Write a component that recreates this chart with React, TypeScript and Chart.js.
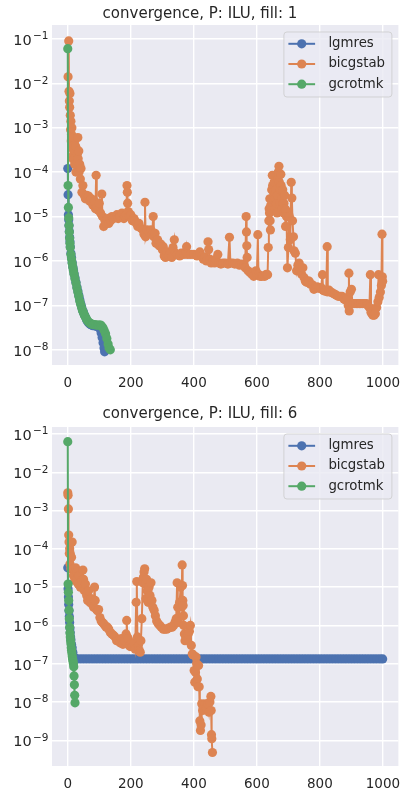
import React, { useEffect, useRef } from "react";
import { Chart, registerables } from "chart.js";

Chart.register(...registerables);

const FAMILY = "'DejaVu Sans'";
const TEXT = "#262626";
const BLUE = "#4C72B0";
const ORANGE = "#DD8452";
const GREEN = "#55A868";

const SERIES_NAMES = ["lgmres", "bicgstab", "gcrotmk"];
const X_TICKS = [0, 200, 400, 600, 800, 1000];
const Y_TICKS_TOP = [1e-8, 1e-7, 1e-6, 1e-5, 1e-4, 1e-3, 1e-2, 1e-1];
const Y_TICKS_BOTTOM = [1e-9, 1e-8, 1e-7, 1e-6, 1e-5, 1e-4, 1e-3, 1e-2, 1e-1];
const TITLE_TOP = "convergence, P: ILU, fill: 1";
const TITLE_BOTTOM = "convergence, P: ILU, fill: 6";

// ---------- top panel (fill: 1) ----------
const topLgmresIter = [0, 1, 2, 3, 4, 5, 6, 7, 8, 10, 12, 14, 16, 18, 20, 23, 26, 29, 32, 35, 38, 41, 44, 47, 50, 53, 56, 60, 64, 68, 72, 76, 80, 85, 90, 95, 100, 103, 106, 109, 112, 115, 117];
const topLgmresRes = [1.2e-4, 3.1e-5, 1.1e-5, 8.5e-6, 6.3e-6, 4.6e-6, 3.4e-6, 2.7e-6, 2.1e-6, 1.5e-6, 1.2e-6, 9.3e-7, 7.4e-7, 6.3e-7, 5.2e-7, 4.2e-7, 3.3e-7, 2.6e-7, 2.1e-7, 1.7e-7, 1.35e-7, 1.1e-7, 9.3e-8, 7.8e-8, 6.9e-8, 6.1e-8, 5.5e-8, 4.7e-8, 4.2e-8, 3.9e-8, 3.7e-8, 3.6e-8, 3.5e-8, 3.5e-8, 3.4e-8, 3.3e-8, 3.2e-8, 2.9e-8, 2.4e-8, 1.9e-8, 1.45e-8, 1.1e-8, 9e-9];

const topGcrotIter = [0, 1, 2, 3, 4, 5, 6, 7, 8, 10, 12, 14, 16, 18, 20, 23, 26, 29, 32, 35, 38, 41, 44, 47, 50, 53, 56, 60, 64, 68, 72, 76, 80, 85, 90, 95, 100, 104, 108, 112, 116, 120, 124, 128, 131, 135];
const topGcrotRes = [6e-2, 5e-5, 1.6e-5, 9.3e-6, 6.3e-6, 4.5e-6, 3.2e-6, 2.5e-6, 2e-6, 1.4e-6, 1.1e-6, 8.9e-7, 7.1e-7, 6e-7, 5e-7, 4e-7, 3.2e-7, 2.5e-7, 2e-7, 1.6e-7, 1.26e-7, 1.05e-7, 8.9e-8, 7.6e-8, 6.8e-8, 6e-8, 5.5e-8, 4.8e-8, 4.4e-8, 4.1e-8, 3.9e-8, 3.8e-8, 3.7e-8, 3.7e-8, 3.6e-8, 3.6e-8, 3.6e-8, 3.6e-8, 3.4e-8, 3.1e-8, 2.7e-8, 2.3e-8, 1.8e-8, 1.35e-8, 1.1e-8, 1e-8];

const topBicgIter = [
  1, 3, 4, 5, 6, 7, 8, 9, 10, 11,
  12, 13, 14, 15, 16, 17, 18, 19, 20, 21,
  22, 23, 25, 26, 28, 30, 32, 33, 35, 36,
  38, 40, 42, 45, 48, 52, 56, 60, 66, 70,
  75, 80,
  85, 88, 90, 92, 96, 100, 104, 108, 110, 114,
  118, 122, 126, 130, 136, 140, 145, 150, 156, 160,
  166, 172, 178, 182, 186, 188, 189, 190, 192, 196,
  200, 205, 210, 213, 218, 222, 226, 232, 238, 242,
  245, 247, 252, 258, 264, 268, 271, 273, 277, 280,
  285, 290, 295, 300, 303, 306, 310, 315, 320, 325,
  330, 334, 338, 342, 348, 355, 360, 368, 374, 377,
  380, 390, 400, 410, 419, 425, 430, 435, 440, 445,
  447, 450, 455, 460, 466, 470, 476, 480, 486, 492,
  500, 508, 513, 516, 524, 530, 538, 545, 552, 558,
  563, 566, 567, 568, 569, 572, 578, 584, 590, 597,
  600, 603, 605, 610, 615, 620, 625, 630, 634, 636,
  638, 639, 640, 641, 642, 643, 644, 646, 647, 649,
  650, 652, 653, 655, 656, 658, 659, 661, 662, 664,
  665, 667, 668, 670, 671, 673, 674, 676, 677, 679,
  680, 682, 683, 685, 686, 688, 689, 691, 692, 694,
  697, 700, 703, 706, 709, 711, 713, 716, 718, 722,
  726, 730, 734, 738, 742, 746, 750, 754, 758, 762,
  766, 770, 776, 781, 786, 792, 798, 804, 808, 810,
  815, 820, 823, 825, 829, 835, 840, 846, 852, 858,
  864, 870, 876, 882, 887, 890, 892, 893, 896, 900,
  903, 908, 915, 920, 925, 930, 936, 942, 948, 952,
  957, 960, 962, 965, 968, 972, 976, 980, 984, 986,
  988, 992, 995, 997, 998, 999,
];
const topBicgRes = [
  1.4e-2, 9e-2, 6.6e-3, 4e-3, 2.9e-3, 5.9e-3, 1.9e-3, 9e-4, 1.4e-3, 5e-4,
  7e-4, 1e-3, 3.5e-4, 6e-4, 2e-4, 4.5e-4, 2.5e-4, 6e-4, 4e-4, 2e-4,
  1.5e-4, 3e-4, 3.8e-4, 1e-4, 1.5e-4, 2.5e-4, 6e-4, 2e-4, 3e-4, 1e-4,
  1.5e-4, 7e-5, 1.2e-4, 3.5e-5, 5e-5, 3e-5, 2.5e-5, 3e-5, 2.9e-5, 2.2e-5,
  2.5e-5, 1.8e-5,
  2.2e-5, 1.5e-5, 8.5e-5, 1.6e-5, 1.4e-5, 2e-5, 1.2e-5, 3.2e-5, 1e-5, 6e-6,
  8e-6, 7e-6, 9e-6, 7e-6, 8e-6, 1e-5, 9e-6, 1e-5, 1.1e-5, 9e-6,
  1e-5, 1.2e-5, 9e-6, 1e-5, 1.1e-5, 5e-5, 3.5e-5, 2e-5, 1.3e-5, 1e-5,
  1.1e-5, 8e-6, 9e-6, 8e-6, 7e-6, 6e-6, 7e-6, 5.5e-6, 5e-6, 4e-6,
  2.1e-5, 3.5e-6, 5e-6, 4.5e-6, 5e-6, 4e-6, 1e-5, 3.5e-6, 4.2e-6, 2.5e-6,
  3e-6, 2.2e-6, 2.4e-6, 1.8e-6, 2.1e-6, 1.3e-6, 1.2e-6, 1.6e-6, 1.3e-6, 1.5e-6,
  1.2e-6, 2e-6, 3e-6, 1.5e-6, 1.4e-6, 1.3e-6, 1.5e-6, 1.4e-6, 1.6e-6, 2.1e-6,
  1.4e-6, 1.4e-6, 1.4e-6, 1.3e-6, 1.6e-6, 1.3e-6, 1.1e-6, 1.2e-6, 1e-6, 2.7e-6,
  1.8e-6, 1.1e-6, 9e-7, 1e-6, 9e-7, 1.1e-6, 1.4e-6, 9e-7, 8.5e-7, 9e-7,
  9e-7, 8.5e-7, 3.4e-6, 9e-7, 9e-7, 8.5e-7, 9e-7, 8e-7, 8.5e-7, 8e-7,
  7e-7, 1e-5, 4.5e-6, 2.2e-6, 1.2e-6, 6e-7, 5.5e-7, 5e-7, 4.5e-7, 6e-7,
  5e-7, 3.9e-6, 5e-7, 4.5e-7, 4.5e-7, 4.6e-7, 4.5e-7, 5e-7, 4.9e-7, 2e-6,
  8e-6, 1.5e-5, 1.2e-5, 2.5e-5, 8e-6, 5e-6, 1.8e-5, 2.5e-5, 4e-5, 8.5e-5,
  5e-5, 2.5e-5, 3.5e-5, 6e-5, 3e-5, 1.5e-5, 2.5e-5, 4e-5, 2e-5, 1.2e-5,
  3e-5, 7e-5, 1e-4, 1.35e-4, 6e-5, 2e-5, 4e-5, 9e-5, 5e-5, 1.5e-5,
  2.5e-5, 4e-5, 2e-5, 1.2e-5, 2e-5, 3e-5, 1.5e-5, 6e-6, 1.4e-5, 1e-5,
  7e-7, 2e-6, 1e-5, 3e-6, 5.9e-5, 2.6e-5, 8e-6, 3.5e-6, 1.7e-6, 1.5e-6,
  6e-7, 8e-7, 9e-7, 6e-7, 5e-7, 7e-7, 4.2e-7, 3.5e-7, 3.3e-7, 3.5e-7,
  3.5e-7, 3e-7, 2.9e-7, 2.3e-7, 2.5e-7, 2.6e-7, 2.4e-7, 2.5e-7, 4.9e-7, 2.2e-7,
  2.1e-7, 2.2e-7, 2.1e-6, 2e-7, 2.2e-7, 2e-7, 1.9e-7, 1.8e-7, 1.7e-7, 1.6e-7,
  1.6e-7, 1.6e-7, 1.4e-7, 1.3e-7, 1.5e-7, 1e-7, 5.3e-7, 7.5e-8, 2e-7, 2.3e-7,
  1.1e-7, 1.1e-7, 1.1e-7, 1.1e-7, 1.1e-7, 1.1e-7, 1.1e-7, 1.1e-7, 1.1e-7, 1e-7,
  9e-8, 4.9e-7, 7e-8, 6.5e-8, 6e-8, 6e-8, 6.5e-8, 9e-8, 1.2e-7, 4.9e-7,
  1.5e-7, 2e-7, 2.8e-7, 4e-6, 4.4e-7, 3.5e-7,
];

// ---------- bottom panel (fill: 6) ----------
const botLgmresIter = [
  0, 1, 2, 3, 4, 5, 6, 7, 8, 9, 10, 12, 14, 16, 18, 20, 22, 24,
  30, 40, 50, 60, 70, 80, 90, 100, 110, 120, 130, 140, 150, 160, 170, 180, 190,
  200, 210, 220, 230, 240, 250, 260, 270, 280, 290, 300, 310, 320, 330, 340, 350,
  360, 370, 380, 390, 400, 410, 420, 430, 440, 450, 460, 470, 480, 490, 500, 510,
  520, 530, 540, 550, 560, 570, 580, 590, 600, 610, 620, 630, 640, 650, 660, 670,
  680, 690, 700, 710, 720, 730, 740, 750, 760, 770, 780, 790, 800, 810, 820, 830,
  840, 850, 860, 870, 880, 890, 900, 910, 920, 930, 940, 950, 960, 970, 980, 990, 999,
];
const botLgmresRes = [
  3.2e-5, 9e-6, 5.5e-6, 3.5e-6, 2.4e-6, 1.7e-6, 1.2e-6, 8.5e-7, 6.5e-7, 5e-7, 4.2e-7, 3.2e-7, 2.6e-7, 2e-7, 1.6e-7, 1.45e-7, 1.38e-7, 1.33e-7,
  1.33e-7, 1.33e-7, 1.33e-7, 1.33e-7, 1.33e-7, 1.33e-7, 1.33e-7, 1.33e-7, 1.33e-7, 1.33e-7, 1.33e-7, 1.33e-7, 1.33e-7, 1.33e-7, 1.33e-7, 1.33e-7, 1.33e-7,
  1.33e-7, 1.33e-7, 1.33e-7, 1.33e-7, 1.33e-7, 1.33e-7, 1.33e-7, 1.33e-7, 1.33e-7, 1.33e-7, 1.33e-7, 1.33e-7, 1.33e-7, 1.33e-7, 1.33e-7, 1.33e-7,
  1.33e-7, 1.33e-7, 1.33e-7, 1.33e-7, 1.33e-7, 1.33e-7, 1.33e-7, 1.33e-7, 1.33e-7, 1.33e-7, 1.33e-7, 1.33e-7, 1.33e-7, 1.33e-7, 1.33e-7, 1.33e-7,
  1.33e-7, 1.33e-7, 1.33e-7, 1.33e-7, 1.33e-7, 1.33e-7, 1.33e-7, 1.33e-7, 1.33e-7, 1.33e-7, 1.33e-7, 1.33e-7, 1.33e-7, 1.33e-7, 1.33e-7, 1.33e-7,
  1.33e-7, 1.33e-7, 1.33e-7, 1.33e-7, 1.33e-7, 1.33e-7, 1.33e-7, 1.33e-7, 1.33e-7, 1.33e-7, 1.33e-7, 1.33e-7, 1.33e-7, 1.33e-7, 1.33e-7, 1.33e-7,
  1.33e-7, 1.33e-7, 1.33e-7, 1.33e-7, 1.33e-7, 1.33e-7, 1.33e-7, 1.33e-7, 1.33e-7, 1.33e-7, 1.33e-7, 1.33e-7, 1.33e-7, 1.33e-7, 1.33e-7, 1.33e-7, 1.33e-7,
];

const botGcrotIter = [0, 1, 2, 3, 4, 5, 6, 7, 8, 9, 10, 11, 12, 13, 14, 15, 16, 17, 18, 19, 20, 21, 22, 23];
const botGcrotRes = [6.3e-2, 1.2e-5, 7.4e-6, 4.5e-6, 2.5e-6, 1.5e-6, 9e-7, 6.3e-7, 5e-7, 4e-7, 3.3e-7, 2.6e-7, 2.2e-7, 1.9e-7, 1.6e-7, 1.4e-7, 1.26e-7, 1.12e-7, 1e-7, 8.3e-8, 4.8e-8, 2.8e-8, 1.5e-8, 9.5e-9];

const botBicgIter = [
  0, 1, 2, 3, 4, 5, 6, 7, 8, 10,
  12, 14, 16, 18, 20, 22, 25, 28, 30, 33,
  36, 40, 44, 48, 50, 53, 56, 60, 63, 66,
  70, 74, 78, 82, 85, 87, 90, 94, 98, 102,
  106, 110, 114, 118, 122, 126, 130, 135, 140, 145,
  150, 155, 160, 166, 170, 175, 180, 185, 187, 189,
  192, 195, 198, 202, 206, 210, 214, 217, 219, 221,
  224, 227, 230, 232, 235, 238, 240, 242, 244, 246,
  248, 250, 252, 255, 258, 261, 264, 267, 270, 274,
  278, 282, 287, 292, 297, 303, 308, 314, 320, 326,
  331, 336, 340, 344, 347, 349, 352, 355, 358, 361,
  363, 364, 365, 366, 367, 368, 370, 372, 375, 378,
  382, 386, 389, 392, 395, 398, 401, 403, 405, 407,
  409, 411, 413, 415, 417, 419, 421, 423, 425, 428,
  432, 436, 440, 444, 448, 451, 454, 455, 456, 457,
  459,
];
const botBicgRes = [
  2.9e-3, 2.5e-3, 1.1e-3, 2.3e-4, 1.5e-4, 7.5e-5, 1e-4, 4e-5, 7.5e-5, 3e-5,
  6e-5, 1.5e-4, 3e-5, 2e-5, 3e-5, 1.5e-5, 3.2e-5, 1.5e-5, 2.5e-5, 1.2e-5,
  2e-5, 1e-5, 1.5e-5, 2.8e-5, 1.6e-5, 8e-6, 1.2e-5, 6e-6, 4.5e-6, 8e-6,
  4e-6, 5e-6, 3.5e-6, 3e-6, 1e-5, 4.5e-6, 2.7e-6, 2.4e-6, 2.6e-6, 1.6e-6,
  1.3e-6, 1.2e-6, 1.1e-6, 1e-6, 9e-7, 9e-7, 8e-7, 6.5e-7, 6e-7, 5.5e-7,
  5e-7, 4e-7, 4e-7, 3.5e-7, 4.5e-7, 3.2e-7, 4e-7, 6e-7, 1.35e-6, 5e-7,
  4.5e-7, 3e-7, 2.8e-7, 3.3e-7, 2.8e-7, 3.5e-7, 2.4e-7, 4e-6, 1.4e-5, 5e-7,
  3e-7, 2.2e-7, 2e-7, 4e-7, 1.5e-6, 1.3e-5, 1.8e-5, 2.5e-5, 3e-5, 1.2e-5,
  5e-6, 1.6e-5, 8e-6, 4e-6, 1e-5, 6e-6, 1.3e-5, 4.5e-6, 3e-6, 2.5e-6,
  1.8e-6, 1.3e-6, 1.1e-6, 1e-6, 9e-7, 8e-7, 8e-7, 8e-7, 8.5e-7, 9e-7,
  9e-7, 1e-6, 1.2e-6, 1.5e-6, 1.3e-5, 3e-6, 1.2e-6, 4e-6, 1e-5, 3e-6,
  3.8e-5, 1.1e-5, 4.5e-6, 3.3e-6, 1.8e-6, 1e-6, 6e-7, 4e-7, 5e-7, 4.5e-7,
  6e-7, 7e-7, 1e-6, 3e-7, 1.8e-7, 1.7e-7, 6.6e-8, 3.3e-8, 6e-8, 1.5e-7,
  1e-7, 4e-8, 2.5e-8, 9e-8, 2.5e-8, 3.2e-9, 1.8e-9, 2.5e-9, 9e-9, 6e-9,
  8e-9, 9e-9, 7e-9, 9e-9, 5.4e-9, 1e-8, 1.4e-8, 6e-9, 1.4e-9, 1.1e-9,
  4.8e-10,
];

type Panel = {
  title: string;
  yTicks: number[];
  yMin: number;
  yMax: number;
  titlePadTop: number;
  titlePadBottom: number;
  xAxisH: number;
  series: { name: string; color: string; iters: number[]; res: number[] }[];
};

const PANELS: Panel[] = [
  {
    title: TITLE_TOP,
    yTicks: Y_TICKS_TOP,
    yMin: 4.55e-9,
    yMax: 0.205,
    titlePadTop: 5,
    titlePadBottom: 2,
    xAxisH: 33,
    series: [
      { name: SERIES_NAMES[0], color: BLUE, iters: topLgmresIter, res: topLgmresRes },
      { name: SERIES_NAMES[1], color: ORANGE, iters: topBicgIter, res: topBicgRes },
      { name: SERIES_NAMES[2], color: GREEN, iters: topGcrotIter, res: topGcrotRes },
    ],
  },
  {
    title: TITLE_BOTTOM,
    yTicks: Y_TICKS_BOTTOM,
    yMin: 2.13e-10,
    yMax: 0.152,
    titlePadTop: 7,
    titlePadBottom: 4,
    xAxisH: 30,
    series: [
      { name: SERIES_NAMES[0], color: BLUE, iters: botLgmresIter, res: botLgmresRes },
      { name: SERIES_NAMES[1], color: ORANGE, iters: botBicgIter, res: botBicgRes },
      { name: SERIES_NAMES[2], color: GREEN, iters: botGcrotIter, res: botGcrotRes },
    ],
  },
];

const POINT_R = 4.6;
const LINE_W = 2;

function buildConfig(p: Panel): any {
  const datasets = p.series
    .slice()
    .reverse()
    .map((s) => ({
      label: s.name,
      data: s.iters.map((x, i) => ({ x, y: s.res[i] })),
      borderColor: s.color,
      backgroundColor: s.color,
      pointBackgroundColor: s.color,
      pointBorderColor: s.color,
      pointBorderWidth: 0,
      pointRadius: POINT_R,
      pointHoverRadius: POINT_R,
      borderWidth: LINE_W,
      tension: 0,
      fill: false,
    }));

  const bgPlugin = {
    id: "axesBg",
    beforeDraw(chart: any) {
      const { ctx, chartArea: ca } = chart;
      ctx.save();
      ctx.fillStyle = "#EAEAF2";
      ctx.fillRect(ca.left, ca.top, ca.right - ca.left, ca.bottom - ca.top);
      ctx.restore();
    },
  };

  const yLabelPlugin = {
    id: "yLabels",
    afterDraw(chart: any) {
      const { ctx, chartArea: ca } = chart;
      const ys = chart.scales.y;
      const right = ca.left - 3.5;
      ctx.save();
      ctx.fillStyle = TEXT;
      ctx.textAlign = "right";
      ctx.textBaseline = "alphabetic";
      for (const v of p.yTicks) {
        const y = ys.getPixelForValue(v);
        const exp = Math.round(Math.log10(v));
        const expStr = (exp < 0 ? "\u2212" : "") + Math.abs(exp);
        ctx.font = `10.5px ${FAMILY}`;
        const ew = ctx.measureText(expStr).width;
        ctx.fillText(expStr, right, y + 0.5);
        ctx.font = `14.5px ${FAMILY}`;
        ctx.fillText("10", right - ew - 1.2, y + 5.8);
      }
      ctx.restore();
    },
  };

  const legendPlugin = {
    id: "boxLegend",
    afterDraw(chart: any) {
      const { ctx, chartArea: ca } = chart;
      const lx = ca.right - 115;
      const ly = ca.top + 6.5;
      const lw = 108;
      const lh = 65;
      ctx.save();
      ctx.beginPath();
      ctx.roundRect(lx + 0.5, ly + 0.5, lw, lh, 3);
      ctx.fillStyle = "rgba(234,234,242,0.8)";
      ctx.fill();
      ctx.strokeStyle = "rgba(204,204,204,0.8)";
      ctx.lineWidth = 1;
      ctx.stroke();
      p.series.forEach((s, k) => {
        const y = ly + 12.3 + k * 20.2;
        ctx.strokeStyle = s.color;
        ctx.lineWidth = LINE_W;
        ctx.beginPath();
        ctx.moveTo(lx + 5, y);
        ctx.lineTo(lx + 31.7, y);
        ctx.stroke();
        ctx.fillStyle = s.color;
        ctx.beginPath();
        ctx.arc(lx + 18.3, y, POINT_R, 0, Math.PI * 2);
        ctx.fill();
        ctx.fillStyle = TEXT;
        ctx.font = `13.3px ${FAMILY}`;
        ctx.textAlign = "left";
        ctx.textBaseline = "middle";
        ctx.fillText(s.name, lx + 45, y);
      });
      ctx.restore();
    },
  };

  const gridOpts = { color: "#FFFFFF", lineWidth: 1.4, drawTicks: false };

  return {
    type: "line",
    data: { datasets },
    plugins: [bgPlugin, yLabelPlugin, legendPlugin],
    options: {
      responsive: false,
      maintainAspectRatio: false,
      animation: false,
      devicePixelRatio: 1,
      events: [],
      layout: { padding: { left: 0, right: 3, top: 0, bottom: 0 } },
      plugins: {
        legend: { display: false },
        tooltip: { enabled: false },
        title: {
          display: true,
          text: p.title,
          color: TEXT,
          font: { family: FAMILY, size: 15, weight: "normal", lineHeight: 1.2 },
          padding: { top: p.titlePadTop, bottom: p.titlePadBottom },
        },
      },
      scales: {
        x: {
          type: "linear",
          min: -50,
          max: 1049,
          afterBuildTicks: (s: any) => {
            s.ticks = X_TICKS.map((v) => ({ value: v }));
          },
          afterFit: (s: any) => {
            s.height = p.xAxisH;
            s.paddingLeft = 0;
            s.paddingRight = 0;
          },
          grid: gridOpts,
          border: { display: false },
          ticks: {
            color: TEXT,
            font: { family: FAMILY, size: 13.5 },
            padding: 10.5,
            maxRotation: 0,
            autoSkip: false,
            callback: (v: any) => String(v),
          },
        },
        y: {
          type: "logarithmic",
          min: p.yMin,
          max: p.yMax,
          afterBuildTicks: (s: any) => {
            s.ticks = p.yTicks.map((v) => ({ value: v }));
          },
          afterFit: (s: any) => {
            s.width = 52;
            s.paddingTop = 0;
            s.paddingBottom = 0;
          },
          grid: gridOpts,
          border: { display: false },
          ticks: { display: false },
        },
      },
    },
  };
}

function PanelChart({ panel, top }: { panel: Panel; top: number }) {
  const ref = useRef<HTMLCanvasElement | null>(null);
  useEffect(() => {
    if (!ref.current) return;
    const chart = new Chart(ref.current, buildConfig(panel));
    return () => chart.destroy();
  }, [panel]);
  return (
    <canvas
      ref={ref}
      width={403}
      height={398}
      style={{ position: "absolute", left: 0, top, width: 403, height: 398, display: "block" }}
    />
  );
}

export default function App() {
  return (
    <div style={{ position: "absolute", left: 0, top: 0, width: 403, height: 796, background: "#FFFFFF" }}>
      <PanelChart panel={PANELS[0]} top={0} />
      <PanelChart panel={PANELS[1]} top={398} />
    </div>
  );
}
